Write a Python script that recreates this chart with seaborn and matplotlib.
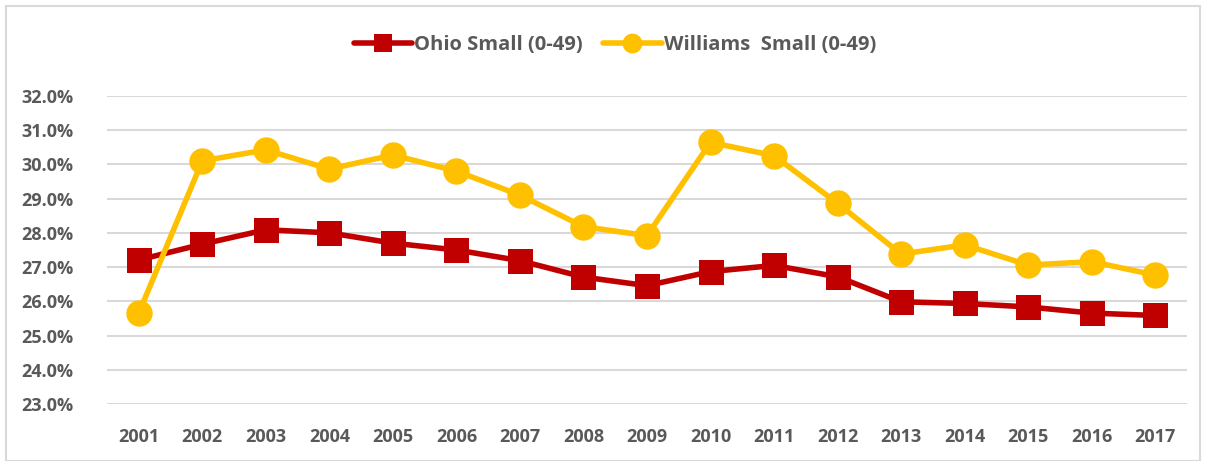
import pandas as pd
import seaborn as sns
import matplotlib.pyplot as plt
from matplotlib.patches import Rectangle
from matplotlib.ticker import FuncFormatter

years = [str(y) for y in range(2001, 2018)]
ohio = [27.21, 27.67, 28.09, 28.00, 27.70, 27.50, 27.19, 26.71, 26.46,
        26.87, 27.05, 26.72, 25.99, 25.94, 25.84, 25.66, 25.59]
williams = [25.66, 30.10, 30.42, 29.86, 30.27, 29.80, 29.10, 28.18, 27.92,
            30.64, 30.25, 28.86, 27.38, 27.65, 27.06, 27.16, 26.77]

df = pd.DataFrame({"Year": years, "Ohio": ohio, "Williams": williams})

sns.set_style("white")
plt.rcParams["font.family"] = ["Open Sans", "DejaVu Sans"]
plt.rcParams["font.weight"] = "bold"

fig = plt.figure(figsize=(12.07, 4.61), dpi=100)
ax = fig.add_axes([107 / 1207, 1 - 404.3 / 461, 1080 / 1207, 308.6 / 461])

# chart border
fig.patches.append(Rectangle((6 / 1207, 0), 1194 / 1207, 455 / 461,
                             transform=fig.transFigure, fill=False,
                             edgecolor="#D9D9D9", linewidth=1.5))

sns.lineplot(data=df, x="Year", y="Ohio", ax=ax, color="#C00000",
             linewidth=4, marker="s", markersize=18, markeredgewidth=0,
             label="Ohio Small (0-49)", zorder=3)
sns.lineplot(data=df, x="Year", y="Williams", ax=ax, color="#FFC000",
             linewidth=4, marker="o", markersize=19, markeredgewidth=0,
             label="Williams  Small (0-49)", zorder=3)

ax.set_xlim(-0.5, len(years) - 0.5)
ax.set_ylim(23, 32)
ax.set_yticks(range(23, 33))
ax.yaxis.set_major_formatter(FuncFormatter(lambda v, p: f"{v:.1f}%"))
ax.grid(axis="y", color="#D9D9D9", linewidth=1.5)
ax.set_axisbelow(True)
for s in ax.spines.values():
    s.set_visible(False)
ax.tick_params(axis="both", length=0, labelsize=13, labelcolor="#595959")
ax.tick_params(axis="y", pad=24)
ax.tick_params(axis="x", pad=17)
for t in ax.get_xticklabels() + ax.get_yticklabels():
    t.set_fontweight("bold")
ax.set_xlabel("")
ax.set_ylabel("")

ax.get_legend().remove()
h, l = ax.get_legend_handles_labels()
leg = fig.legend(h, l, loc="center", bbox_to_anchor=(615 / 1207, 1 - 45 / 461),
                 ncol=2, frameon=False, labelcolor="#595959",
                 handlelength=2.9, handletextpad=0.1, columnspacing=1.0,
                 markerscale=0.75, prop={"weight": "bold", "size": 14.5})

fig.savefig("out.png", dpi=100)
